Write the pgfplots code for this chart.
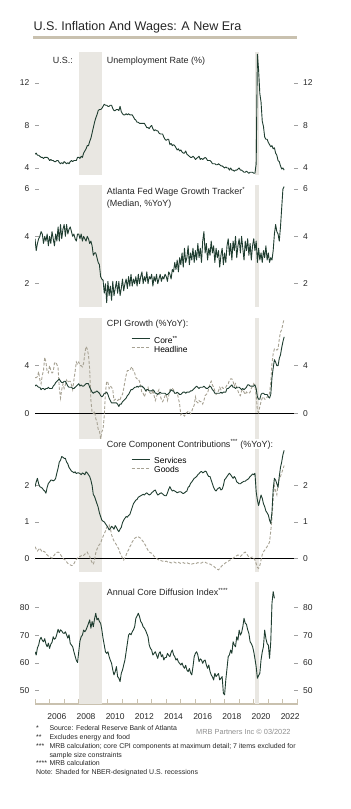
\documentclass[border=0pt]{standalone}
\usepackage{fontspec}
\setmainfont{Liberation Sans}
\usepackage{pgfplots}
\pgfplotsset{compat=1.18}
\usepackage{pgfplotstable}

\definecolor{lgreen}{HTML}{1F3D30}
\definecolor{hdash}{HTML}{A7A293}
\definecolor{shade}{HTML}{E9E7E2}
\definecolor{tanc}{HTML}{C9C1AF}
\definecolor{tickc}{HTML}{A0A0A0}
\definecolor{txt}{HTML}{262626}
\definecolor{graytxt}{HTML}{8E8E8E}

\newcommand\ticfont{\fontsize{8.5}{10}\selectfont}
\newcommand\ptfont{\fontsize{9}{10.5}\selectfont}
\newcommand\legfont{\fontsize{8.5}{9}\selectfont}
\newcommand\fnfont{\fontsize{7}{8.5}\selectfont}

\pgfplotstableread[row sep=\\]{y\\
5.3\\5.4\\5.2\\5.2\\5.1\\5.0\\5.0\\4.9\\5.0\\5.0\\5.0\\4.9\\
4.7\\4.8\\4.7\\4.7\\4.6\\4.6\\4.7\\4.7\\4.5\\4.4\\4.5\\4.4\\
4.6\\4.5\\4.4\\4.5\\4.4\\4.6\\4.7\\4.6\\4.7\\4.7\\4.7\\5.0\\
5.0\\4.9\\5.1\\5.0\\5.4\\5.6\\5.8\\6.1\\6.1\\6.5\\6.8\\7.3\\
7.8\\8.3\\8.7\\9.0\\9.4\\9.5\\9.5\\9.6\\9.8\\10.0\\9.9\\9.9\\
9.8\\9.8\\9.9\\9.9\\9.6\\9.4\\9.4\\9.5\\9.5\\9.4\\9.8\\9.3\\
9.1\\9.0\\9.0\\9.1\\9.0\\9.1\\9.0\\9.0\\9.0\\8.8\\8.6\\8.5\\
8.3\\8.3\\8.2\\8.2\\8.2\\8.2\\8.2\\8.0\\7.8\\7.8\\7.7\\7.9\\
8.0\\7.7\\7.5\\7.6\\7.5\\7.5\\7.3\\7.2\\7.2\\7.2\\6.9\\6.7\\
6.6\\6.7\\6.7\\6.2\\6.3\\6.1\\6.2\\6.1\\5.9\\5.7\\5.8\\5.6\\
5.7\\5.5\\5.4\\5.4\\5.6\\5.3\\5.2\\5.1\\5.0\\5.0\\5.1\\5.0\\
4.8\\4.9\\5.0\\5.1\\4.8\\4.9\\4.8\\4.9\\5.0\\4.9\\4.7\\4.7\\
4.7\\4.6\\4.4\\4.4\\4.4\\4.3\\4.3\\4.4\\4.3\\4.2\\4.2\\4.1\\
4.0\\4.1\\4.0\\4.0\\3.8\\4.0\\3.8\\3.8\\3.7\\3.8\\3.8\\3.9\\
4.0\\3.8\\3.8\\3.7\\3.6\\3.6\\3.7\\3.6\\3.5\\3.6\\3.6\\3.6\\
3.5\\3.5\\4.4\\14.7\\13.2\\11.0\\10.2\\8.4\\7.9\\6.9\\6.7\\6.7\\
6.4\\6.2\\6.0\\6.1\\5.8\\5.9\\5.4\\5.2\\4.7\\4.6\\4.2\\3.9\\
4.0\\3.8\\
}\urdata

\pgfplotstableread[row sep=\\]{y\\
3.9\\3.4\\3.7\\3.9\\4.0\\4.2\\4.1\\3.7\\4.0\\3.8\\4.1\\3.6\\
4.0\\3.7\\4.2\\3.9\\3.6\\4.1\\3.8\\4.4\\3.8\\4.5\\3.9\\4.3\\
4.5\\4.0\\4.5\\4.1\\4.3\\4.4\\4.2\\4.0\\4.1\\3.9\\3.8\\4.1\\
4.1\\3.9\\4.1\\3.8\\4.0\\3.9\\3.8\\4.0\\3.9\\3.7\\3.8\\3.6\\
3.2\\3.3\\3.3\\3.1\\2.9\\2.8\\2.3\\2.2\\2.15\\1.6\\2.0\\1.2\\
2.1\\1.5\\1.9\\1.3\\2.1\\1.5\\1.8\\2.1\\1.6\\2.1\\1.5\\1.8\\
2.2\\1.7\\2.0\\2.2\\1.8\\2.3\\1.9\\2.4\\1.9\\2.2\\2.0\\2.3\\
1.9\\2.4\\2.0\\2.3\\2.5\\2.0\\2.3\\2.1\\2.5\\2.0\\2.3\\2.2\\
2.4\\1.9\\2.3\\2.1\\2.4\\2.0\\2.2\\2.4\\2.1\\2.3\\2.2\\2.4\\
2.3\\2.1\\2.5\\2.4\\2.2\\2.6\\2.5\\2.9\\2.6\\3.0\\2.5\\3.1\\
2.8\\3.3\\2.7\\3.5\\2.9\\3.1\\3.6\\2.8\\3.3\\3.0\\3.5\\2.9\\
3.4\\3.0\\3.7\\3.1\\3.5\\2.9\\3.8\\4.2\\3.3\\3.7\\3.0\\3.5\\
3.2\\3.8\\3.3\\3.6\\2.9\\3.5\\3.1\\3.4\\2.7\\3.2\\3.5\\2.8\\
3.3\\2.9\\3.6\\3.9\\3.2\\3.7\\3.0\\3.8\\3.4\\4.0\\3.1\\3.6\\
3.9\\3.3\\4.0\\3.5\\3.0\\3.8\\3.4\\3.9\\3.2\\3.7\\3.0\\3.6\\
3.9\\3.4\\3.8\\2.9\\3.5\\3.0\\3.3\\2.9\\3.4\\3.1\\3.6\\3.0\\
3.3\\2.9\\3.1\\3.0\\3.4\\4.1\\4.5\\4.2\\4.1\\3.8\\4.4\\5.2\\
6.0\\6.1\\
}\wagedata

\pgfplotstableread[row sep=\\]{y\\
2.3\\2.4\\2.3\\2.2\\2.2\\2.0\\2.1\\2.1\\2.0\\2.1\\2.1\\2.2\\
2.1\\2.1\\2.1\\2.3\\2.4\\2.6\\2.7\\2.8\\2.9\\2.7\\2.6\\2.6\\
2.7\\2.7\\2.5\\2.3\\2.2\\2.2\\2.2\\2.1\\2.1\\2.2\\2.3\\2.4\\
2.5\\2.3\\2.4\\2.3\\2.3\\2.4\\2.5\\2.5\\2.5\\2.2\\2.0\\1.8\\
1.7\\1.8\\1.8\\1.9\\1.8\\1.7\\1.5\\1.4\\1.5\\1.7\\1.7\\1.8\\
1.6\\1.3\\1.1\\0.9\\0.9\\0.9\\0.9\\0.9\\0.8\\0.6\\0.8\\0.8\\
1.0\\1.1\\1.2\\1.3\\1.5\\1.6\\1.8\\2.0\\2.0\\2.1\\2.2\\2.2\\
2.3\\2.2\\2.3\\2.3\\2.3\\2.2\\2.1\\1.9\\2.0\\2.0\\1.9\\1.9\\
1.9\\2.0\\1.9\\1.7\\1.7\\1.6\\1.7\\1.8\\1.7\\1.7\\1.7\\1.7\\
1.6\\1.6\\1.7\\1.8\\2.0\\1.9\\1.9\\1.7\\1.7\\1.8\\1.7\\1.6\\
1.6\\1.7\\1.8\\1.8\\1.7\\1.8\\1.8\\1.8\\1.9\\1.9\\2.0\\2.1\\
2.2\\2.3\\2.2\\2.1\\2.2\\2.2\\2.2\\2.3\\2.2\\2.1\\2.1\\2.2\\
2.3\\2.2\\2.0\\1.9\\1.7\\1.7\\1.7\\1.7\\1.7\\1.8\\1.7\\1.8\\
1.8\\1.8\\2.1\\2.1\\2.2\\2.3\\2.4\\2.2\\2.2\\2.1\\2.2\\2.2\\
2.2\\2.1\\2.0\\2.1\\2.0\\2.1\\2.2\\2.4\\2.4\\2.3\\2.3\\2.3\\
2.3\\2.4\\2.1\\1.4\\1.2\\1.2\\1.6\\1.7\\1.7\\1.6\\1.6\\1.6\\
1.4\\1.3\\1.6\\3.0\\3.8\\4.5\\4.3\\4.0\\4.0\\4.6\\4.9\\5.5\\
6.0\\6.4\\
}\coredata

\pgfplotstableread[row sep=\\]{y\\
3.0\\3.0\\3.1\\3.5\\2.8\\2.5\\3.2\\3.6\\4.7\\4.3\\3.5\\3.4\\
4.0\\3.6\\3.4\\3.5\\4.2\\4.3\\4.1\\3.8\\2.1\\1.3\\2.0\\2.5\\
2.1\\2.4\\2.8\\2.6\\2.7\\2.7\\2.4\\2.0\\2.8\\3.5\\4.3\\4.1\\
4.3\\4.0\\4.0\\3.9\\4.2\\5.0\\5.6\\5.4\\4.9\\3.7\\1.1\\0.1\\
0.0\\0.2\\-0.4\\-0.7\\-1.3\\-1.4\\-2.1\\-1.5\\-1.3\\-0.2\\1.8\\2.7\\
2.6\\2.1\\2.3\\2.2\\2.0\\1.1\\1.2\\1.1\\1.1\\1.2\\1.1\\1.5\\
1.6\\2.1\\2.7\\3.2\\3.6\\3.6\\3.6\\3.8\\3.9\\3.5\\3.4\\3.0\\
2.9\\2.9\\2.7\\2.3\\1.7\\1.7\\1.4\\1.7\\2.0\\2.2\\1.8\\1.7\\
1.6\\2.0\\1.5\\1.1\\1.4\\1.8\\2.0\\1.5\\1.2\\1.0\\1.2\\1.5\\
1.6\\1.1\\1.5\\2.0\\2.1\\2.1\\2.0\\1.7\\1.7\\1.7\\1.3\\0.8\\
-0.1\\0.0\\-0.1\\-0.2\\0.0\\0.1\\0.2\\0.2\\0.0\\0.2\\0.5\\0.7\\
1.4\\1.0\\0.9\\1.1\\1.0\\1.0\\0.8\\1.1\\1.5\\1.6\\1.7\\2.1\\
2.5\\2.7\\2.4\\2.2\\1.9\\1.6\\1.7\\1.9\\2.2\\2.0\\2.2\\2.1\\
2.1\\2.2\\2.4\\2.5\\2.8\\2.9\\2.9\\2.7\\2.3\\2.5\\2.2\\1.9\\
1.6\\1.5\\1.9\\2.0\\1.8\\1.6\\1.8\\1.7\\1.7\\1.8\\2.1\\2.3\\
2.5\\2.3\\1.5\\0.3\\0.1\\0.6\\1.0\\1.3\\1.4\\1.2\\1.2\\1.4\\
1.4\\1.7\\2.6\\4.2\\5.0\\5.4\\5.4\\5.3\\5.4\\6.2\\6.8\\7.0\\
7.5\\7.9\\
}\headdata

\pgfplotstableread[row sep=\\]{y\\
1.97\\2.1\\2.2\\2.05\\1.97\\1.95\\1.93\\1.88\\1.85\\1.79\\1.95\\2.06\\
2.1\\2.15\\2.15\\2.13\\2.15\\2.2\\2.35\\2.48\\2.65\\2.7\\2.8\\2.78\\
2.75\\2.75\\2.65\\2.6\\2.5\\2.45\\2.4\\2.38\\2.35\\2.38\\2.33\\2.35\\
2.35\\2.33\\2.3\\2.35\\2.33\\2.3\\2.38\\2.35\\2.3\\2.25\\2.15\\2.0\\
1.75\\1.7\\1.6\\1.5\\1.4\\1.25\\1.15\\1.05\\1.02\\1.0\\0.95\\0.9\\
0.85\\0.78\\0.82\\0.88\\0.85\\0.8\\0.9\\0.85\\0.78\\0.73\\0.8\\0.85\\
0.98\\1.05\\1.1\\1.15\\1.13\\1.18\\1.2\\1.3\\1.4\\1.5\\1.55\\1.6\\
1.62\\1.68\\1.7\\1.72\\1.74\\1.76\\1.74\\1.78\\1.8\\1.77\\1.74\\1.76\\
1.8\\1.83\\1.86\\1.88\\1.8\\1.74\\1.76\\1.79\\1.8\\1.77\\1.74\\1.72\\
1.72\\1.8\\1.9\\1.97\\1.9\\1.85\\1.87\\1.85\\1.83\\1.8\\1.82\\1.83\\
1.83\\1.8\\1.78\\1.8\\1.83\\1.85\\1.95\\1.98\\2.06\\2.1\\2.15\\2.2\\
2.22\\2.25\\2.3\\2.33\\2.37\\2.39\\2.35\\2.37\\2.4\\2.38\\2.3\\2.25\\
2.25\\2.15\\2.05\\1.95\\1.88\\1.85\\1.9\\1.93\\1.95\\1.88\\1.9\\2.0\\
2.16\\2.2\\2.25\\2.3\\2.34\\2.3\\2.25\\2.2\\2.25\\2.2\\2.1\\2.08\\
2.05\\2.05\\2.08\\2.1\\2.12\\2.12\\2.15\\2.17\\2.2\\2.25\\2.28\\2.32\\
2.3\\2.34\\1.83\\1.6\\1.45\\1.6\\1.74\\1.65\\1.5\\1.42\\1.3\\1.25\\
1.19\\1.05\\0.96\\1.28\\1.9\\2.2\\2.15\\2.05\\1.95\\2.25\\2.5\\2.65\\
2.85\\2.97\\
}\servdata

\pgfplotstableread[row sep=\\]{y\\
0.32\\0.25\\0.2\\0.24\\0.28\\0.22\\0.17\\0.19\\0.18\\0.12\\0.09\\0.06\\
0.05\\0.02\\0.0\\0.05\\0.09\\0.14\\0.16\\0.17\\0.15\\0.1\\0.05\\0.0\\
-0.03\\-0.05\\-0.1\\-0.14\\-0.17\\-0.18\\-0.2\\-0.2\\-0.15\\-0.09\\-0.03\\0.0\\
0.05\\0.04\\0.07\\0.09\\0.08\\0.11\\0.14\\0.17\\0.1\\0.05\\-0.05\\-0.12\\
-0.17\\-0.05\\0.15\\0.25\\0.32\\0.38\\0.41\\0.52\\0.6\\0.68\\0.75\\0.85\\
0.88\\0.92\\0.82\\0.65\\0.55\\0.48\\0.42\\0.37\\0.31\\0.25\\0.14\\0.08\\
0.0\\-0.05\\0.02\\0.09\\0.18\\0.23\\0.32\\0.37\\0.45\\0.5\\0.55\\0.57\\
0.6\\0.59\\0.57\\0.55\\0.5\\0.46\\0.41\\0.35\\0.28\\0.22\\0.18\\0.15\\
0.14\\0.1\\0.05\\0.03\\0.0\\-0.03\\-0.05\\-0.05\\-0.07\\-0.08\\-0.08\\-0.09\\
-0.08\\-0.1\\-0.09\\-0.11\\-0.13\\-0.12\\-0.1\\-0.11\\-0.13\\-0.12\\-0.11\\-0.13\\
-0.14\\-0.13\\-0.12\\-0.14\\-0.13\\-0.12\\-0.14\\-0.15\\-0.17\\-0.16\\-0.15\\-0.14\\
-0.13\\-0.14\\-0.12\\-0.13\\-0.14\\-0.13\\-0.11\\-0.1\\-0.11\\-0.13\\-0.14\\-0.15\\
-0.16\\-0.18\\-0.2\\-0.22\\-0.25\\-0.28\\-0.3\\-0.32\\-0.28\\-0.24\\-0.2\\-0.17\\
-0.15\\-0.12\\-0.1\\-0.08\\-0.06\\-0.04\\-0.02\\0.0\\0.03\\0.05\\0.07\\0.09\\
0.07\\0.05\\0.08\\0.12\\0.15\\0.17\\0.12\\0.08\\0.03\\0.0\\0.02\\0.04\\
0.0\\-0.05\\-0.15\\-0.25\\-0.28\\-0.2\\-0.05\\0.1\\0.18\\0.22\\0.27\\0.32\\
0.37\\0.45\\0.75\\1.1\\1.65\\2.0\\1.85\\1.75\\2.05\\2.2\\2.25\\2.35\\
2.45\\2.55\\
}\goodsdata

\pgfplotstableread[row sep=\\]{y\\
64.1\\62.9\\65.5\\66.5\\68.5\\69.3\\68.2\\67.7\\68.8\\66.9\\65.9\\67.2\\
65.3\\66.8\\67.5\\69.5\\68.6\\69.0\\70.5\\72.2\\71.0\\72.0\\71.6\\70.9\\
70.7\\71.3\\70.2\\69.0\\70.2\\67.1\\66.5\\65.9\\64.1\\62.5\\61.0\\60.2\\
64.1\\68.0\\69.5\\70.1\\71.9\\71.3\\72.0\\73.1\\74.3\\75.6\\72.6\\75.0\\
73.1\\76.0\\78.0\\75.6\\76.2\\75.0\\74.4\\72.0\\68.9\\66.5\\64.0\\63.5\\
64.1\\62.3\\61.0\\59.9\\57.5\\55.7\\56.9\\58.7\\55.1\\54.5\\53.3\\56.3\\
57.5\\59.3\\61.1\\64.1\\67.1\\70.1\\70.7\\70.2\\71.3\\72.0\\73.1\\76.2\\
77.0\\78.0\\76.8\\75.0\\74.4\\73.1\\72.6\\71.8\\70.7\\69.5\\66.5\\65.3\\
64.7\\62.9\\63.5\\64.1\\62.9\\61.7\\63.5\\64.1\\62.3\\63.0\\61.1\\62.0\\
62.0\\63.5\\62.8\\62.3\\63.8\\64.7\\63.0\\62.3\\61.1\\61.6\\60.4\\59.9\\
59.3\\60.0\\58.8\\58.1\\59.2\\57.5\\56.9\\58.0\\56.5\\55.7\\58.7\\62.3\\
63.5\\64.1\\62.9\\60.5\\61.5\\61.1\\59.9\\60.8\\61.1\\59.3\\58.1\\59.3\\
57.0\\55.7\\55.0\\53.9\\56.3\\55.1\\55.7\\56.2\\53.9\\54.5\\55.1\\49.1\\
48.5\\53.9\\58.1\\62.3\\63.0\\64.7\\63.5\\67.7\\66.5\\65.9\\69.5\\68.3\\
71.9\\70.1\\71.0\\73.1\\76.2\\74.4\\74.0\\72.0\\70.7\\67.7\\67.0\\66.0\\
64.1\\61.5\\58.7\\54.5\\55.5\\56.3\\61.1\\64.0\\66.0\\71.9\\68.9\\67.0\\
66.5\\61.7\\67.7\\81.6\\85.8\\83.4\\
}\diffdata

\pgfplotsset{
  base/.style={scale only axis, width=262.5bp, anchor=south west,
    xmin=2005, xmax=2023, axis line style={draw=none}, xtick=\empty,
    tick align=inside, major tick length=4bp,
    tick style={draw=tickc, line width=0.6bp},
    yticklabel style={font=\ticfont, text=txt, inner sep=0pt},
    ytick pos=left, yticklabel pos=left,
    /pgf/number format/assume math mode=true},
  leftlab/.style={yticklabel style={xshift=-5.5bp}},
  rightlab/.style={ytick pos=right, yticklabel pos=right, yticklabel style={xshift=5.5bp}},
  gline/.style={lgreen, line width=0.9bp, line join=round},
  dline/.style={hdash, line width=0.9bp, dash pattern=on 3bp off 1.8bp},
  shd/.style={fill=shade, draw=none, forget plot},
}
\newcommand\recess[2]{%
  \addplot[shd] coordinates {(2008,#1) (2009.6,#1) (2009.6,#2) (2008,#2)} -- cycle;
  \addplot[shd] coordinates {(2020.08,#1) (2020.33,#1) (2020.33,#2) (2020.08,#2)} -- cycle;}

\begin{document}
\begin{tikzpicture}
\path[use as bounding box] (0bp,0bp) rectangle (351bp,809bp);

% title
\node[anchor=base west, inner sep=0pt, font=\fontsize{12.6}{15}\selectfont, text=txt] at (33.3bp,778.3bp) {U.S. Inflation And Wages: A New Era};
\fill[tanc] (33bp,769.7bp) rectangle (297bp,773.2bp);

% Panel 1: unemployment
\begin{axis}[base, leftlab, at={(35bp,634bp)}, height=122bp, ymin=3.34, ymax=14.82, ytick={4,8,12}]
\recess{0}{20}
\addplot[gline] table[x expr=2005+\coordindex/12, y=y] {\urdata};
\end{axis}
\begin{axis}[base, rightlab, at={(35bp,634bp)}, height=122bp, ymin=3.34, ymax=14.82, ytick={4,8,12}]
\end{axis}
\node[anchor=base west, inner sep=0pt, font=\ptfont, text=txt] at (52.7bp,745.7bp) {U.S.:};
\node[anchor=base west, inner sep=0pt, font=\ptfont, text=txt] at (106.7bp,745.7bp) {Unemployment Rate (\%)};

% Panel 2: wages
\begin{axis}[base, leftlab, at={(35bp,502.3bp)}, height=121bp, ymin=1.03, ymax=6.14, ytick={2,4,6}]
\recess{0}{10}
\addplot[gline] table[x expr=2005+\coordindex/12, y=y] {\wagedata};
\end{axis}
\begin{axis}[base, rightlab, at={(35bp,502.3bp)}, height=121bp, ymin=1.03, ymax=6.14, ytick={2,4,6}]
\end{axis}
\node[anchor=base west, inner sep=0pt, font=\ptfont, text=txt] at (106.7bp,614bp) {Atlanta Fed Wage Growth Tracker\textsuperscript{*}};
\node[anchor=base west, inner sep=0pt, font=\ptfont, text=txt] at (106.7bp,602.3bp) {(Median, \%YoY)};

% Panel 3: CPI
\begin{axis}[base, leftlab, at={(35bp,370bp)}, height=120.7bp, ymin=-2.11, ymax=7.95, ytick={0,4},
  legend style={at={(0.366,0.85)}, anchor=north west, draw=none, fill=none, inner sep=0pt,
    font=\legfont, row sep=0pt, column sep=4bp, nodes={inner sep=0pt, text height=6.5bp, text depth=2.5bp}},
  legend cell align=left,
  legend image code/.code={\draw[#1] (0bp,2.8bp) -- (18bp,2.8bp);}]
\recess{-10}{20}
\addplot[black, line width=0.8bp, forget plot] coordinates {(2005,0) (2023,0)};
\addplot[dline, forget plot] table[x expr=2005+\coordindex/12, y=y] {\headdata};
\addplot[gline] table[x expr=2005+\coordindex/12, y=y] {\coredata};
\addlegendentry{Core\textsuperscript{**}}
\addlegendimage{dline}
\addlegendentry{Headline}
\end{axis}
\begin{axis}[base, rightlab, at={(35bp,370bp)}, height=120.7bp, ymin=-2.11, ymax=7.95, ytick={0,4}]
\end{axis}
\node[anchor=base west, inner sep=0pt, font=\ptfont, text=txt] at (106.7bp,482.3bp) {CPI Growth (\%YoY):};

% Panel 4: components
\begin{axis}[base, leftlab, at={(35bp,237.3bp)}, height=121.7bp, ymin=-0.37, ymax=2.98, ytick={0,1,2},
  legend style={at={(0.366,0.94)}, anchor=north west, draw=none, fill=none, inner sep=0pt,
    font=\legfont, row sep=0pt, column sep=4bp, nodes={inner sep=0pt, text height=6.5bp, text depth=2.5bp}},
  legend cell align=left,
  legend image code/.code={\draw[#1] (0bp,2.8bp) -- (18bp,2.8bp);}]
\recess{-5}{10}
\addplot[black, line width=0.8bp, forget plot] coordinates {(2005,0) (2023,0)};
\addplot[dline, forget plot] table[x expr=2005+\coordindex/12, y=y] {\goodsdata};
\addplot[gline] table[x expr=2005+\coordindex/12, y=y] {\servdata};
\addlegendentry{Services}
\addlegendimage{dline}
\addlegendentry{Goods}
\end{axis}
\begin{axis}[base, rightlab, at={(35bp,237.3bp)}, height=121.7bp, ymin=-0.37, ymax=2.98, ytick={0,1,2}]
\end{axis}
\node[anchor=base west, inner sep=0pt, font=\ptfont, text=txt] at (106.7bp,361.5bp) {Core Component Contributions\textsuperscript{***} (\%YoY):};

% Panel 5: diffusion
\begin{axis}[base, leftlab, at={(35bp,105bp)}, height=121.3bp, ymin=45.2, ymax=89.04, ytick={50,60,70,80},
  axis x line*=bottom, axis y line*=left,
  y axis line style={draw=none}, x axis line style={draw=tanc, line width=2.2bp},
  xtick={2006.5,2008.5,2010.5,2012.5,2014.5,2016.5,2018.5,2020.5,2022.5},
  xticklabels={2006,2008,2010,2012,2014,2016,2018,2020,2022},
  minor xtick={2005,2006,...,2023}, minor tick length=4.5bp,
  major x tick style={draw=none}, minor x tick style={draw=tanc, line width=1bp},
  xticklabel style={font=\ticfont, text=txt, inner sep=0pt, anchor=north, yshift=-9.3bp}]
\recess{0}{200}
\addplot[gline] table[x expr=2005+\coordindex/12, y=y] {\diffdata};
\end{axis}
\begin{axis}[base, rightlab, at={(35bp,105bp)}, height=121.3bp, ymin=45.2, ymax=89.04, ytick={50,60,70,80}]
\end{axis}
\node[anchor=base west, inner sep=0pt, font=\ptfont, text=txt] at (106.7bp,213bp) {Annual Core Diffusion Index\textsuperscript{****}};

% footnotes
\begin{scope}[every node/.style={anchor=base west, inner sep=0pt, font=\fnfont, text=txt}]
\node at (36bp,78.3bp) {*};    \node at (49.3bp,78.3bp) {Source: Federal Reserve Bank of Atlanta};
\node at (36bp,69.5bp) {**};   \node at (49.3bp,69.5bp) {Excludes energy and food};
\node at (36bp,60.7bp) {***};  \node at (49.3bp,60.7bp) {MRB calculation; core CPI components at maximum detail; 7 items excluded for};
\node at (49.3bp,51.9bp) {sample size constraints};
\node at (36bp,43.1bp) {****}; \node at (49.3bp,43.1bp) {MRB calculation};
\node at (36bp,34.3bp) {Note: Shaded for NBER-designated U.S. recessions};
\end{scope}
\node[anchor=base west, inner sep=0pt, font=\fontsize{7.4}{9}\selectfont, text=graytxt] at (196bp,74.7bp) {MRB Partners Inc \textcopyright\ 03/2022};
\end{tikzpicture}
\end{document}
